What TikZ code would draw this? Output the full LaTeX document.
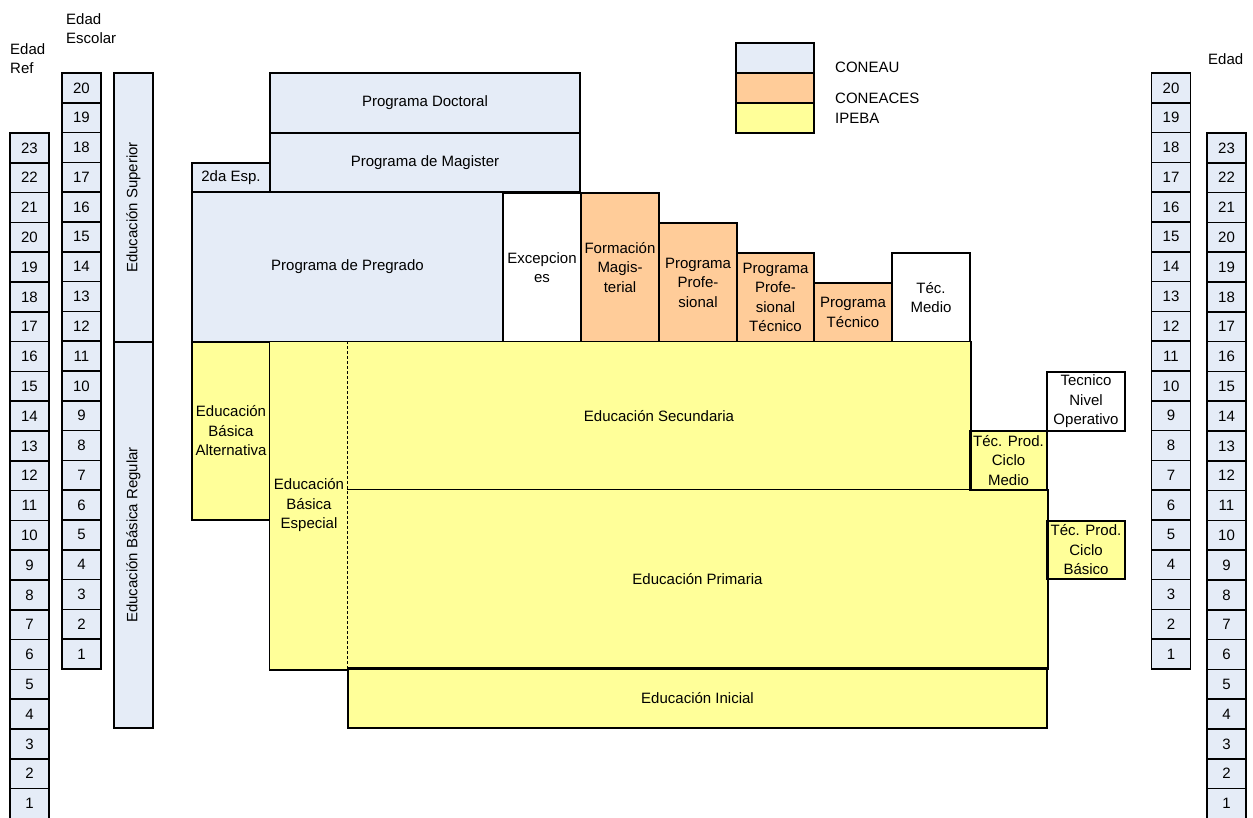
\documentclass[tikz,border=0pt]{standalone}
\usepackage{fontspec}
\setmainfont{Liberation Sans}
\definecolor{azul}{RGB}{229,236,247}
\definecolor{naranja}{RGB}{255,204,153}
\definecolor{amarillo}{RGB}{255,255,153}

\begin{document}
\begin{tikzpicture}[x=1pt,y=-1pt,
        font=\fontsize{15}{19.5}\selectfont,
        caja/.style={rectangle,draw=black,line width=1.5pt,inner sep=0pt,align=center},
        coneaubox/.style={caja,fill=azul},
        coneacesbox/.style={caja,fill=naranja},
        ipebabox/.style={caja,fill=amarillo},
        libre/.style={caja,fill=white},
        celda/.style={caja,fill=azul,line width=1.7pt,minimum width=39,minimum height=29.8},
        rotulo/.style={inner sep=0pt,align=left,anchor=north west}]
    \useasboundingbox (0,0) rectangle (1253,817);

    \node[rotulo] (edadref) at (10,43) {Edad\\Ref};
    \node[rotulo] (edadesc) at (66,13) {Edad\\Escolar};
    \node[rotulo] (edadder) at (1208,53) {Edad};

    \foreach \a in {1,...,23}{
        \node[celda] (ref\a) at (29.5,{833.3-29.8*\a}) {\a};
        \node[celda] (rref\a) at (1226.5,{833.3-29.8*\a}) {\a};
    }
    \foreach \e in {1,...,20}{
        \node[celda] (esc\e) at (81.5,{683.9-29.8*\e}) {\e};
        \node[celda] (resc\e) at (1171,{683.9-29.8*\e}) {\e};
    }

    \node[coneaubox,minimum width=39,minimum height=269] (superior) at (133.5,207.5) {\rotatebox{90}{Educación Superior}};
    \node[coneaubox,minimum width=39,minimum height=386] (regular) at (133.5,535) {\rotatebox{90}{Educación Básica Regular}};

    \node[coneaubox,minimum width=78,minimum height=30] (leyconeau) at (775,58) {};
    \node[coneacesbox,minimum width=78,minimum height=30] (leyconeaces) at (775,88) {};
    \node[ipebabox,minimum width=78,minimum height=30] (leyipeba) at (775,118) {};
    \node[rotulo] (txtconeau) at (835,62) {CONEAU};
    \node[rotulo] (txtconeaces) at (835,93) {CONEACES\\IPEBA};

    \node[coneaubox,minimum width=310,minimum height=60] (doctoral) at (425,103) {Programa Doctoral};
    \node[coneaubox,minimum width=310,minimum height=59] (magister) at (425,162.5) {Programa de Magister};
    \node[coneaubox,minimum width=78,minimum height=29] (espec2) at (231,177.5) {2da Esp.};
    \node[coneaubox,minimum width=311,minimum height=150] (pregrado) at (347.5,267) {Programa de Pregrado};
    \node[libre,minimum width=78,minimum height=149] (excepciones) at (542,267.5) {Excepcion\\es};
    \node[coneacesbox,minimum width=78,minimum height=149] (formacion) at (620,267.5) {Formación\\Magis-\\terial};
    \node[coneacesbox,minimum width=78,minimum height=119] (profesional) at (698,282.5) {Programa\\Profe-\\sional};
    \node[coneacesbox,minimum width=77,minimum height=89] (proftecnico) at (775.5,297.5) {Programa\\Profe-\\sional\\Técnico};
    \node[coneacesbox,minimum width=78,minimum height=59] (tecnico) at (853,312.5) {Programa\\Técnico};
    \node[libre,minimum width=78,minimum height=89] (tecmedio) at (931,297.5) {Téc.\\Medio};

    \node[ipebabox,minimum width=78,minimum height=178] (alternativa) at (231,431) {Educación\\Básica\\Alternativa};
    \node[ipebabox,draw=none,minimum width=78,minimum height=327] (especial) at (309,505.5) {Educación\\Básica\\Especial};
    \node[ipebabox,draw=none,minimum width=622,minimum height=148] (secundaria) at (659,416) {Educación Secundaria};
    \node[ipebabox,draw=none,minimum width=699,minimum height=178] (primaria) at (697.5,579) {Educación Primaria};
    \node[ipebabox,minimum width=699,minimum height=60] (inicial) at (697.5,698) {Educación Inicial};
    \node[ipebabox,minimum width=77,minimum height=59] (ciclomedio) at (1008.5,460.5) {Téc. Prod.\\Ciclo\\Medio};
    \node[libre,minimum width=78,minimum height=59] (nivelop) at (1086,401.5) {Tecnico\\Nivel\\Operativo};
    \node[ipebabox,minimum width=78,minimum height=58] (ciclobasico) at (1086,550) {Téc. Prod.\\Ciclo\\Básico};

    \draw[line width=1.5pt] (especial.south east) -- (especial.south west) -- (especial.north west) -- (secundaria.north east) -- (secundaria.south east);
    \draw[line width=1.5pt] (primaria.north west) -- (primaria.north east) -- (primaria.south east) -- (primaria.south west);
    \draw[line width=0.8pt,dash pattern=on 3pt off 2pt] (secundaria.north west) -- (primaria.south west);
\end{tikzpicture}
\end{document}
